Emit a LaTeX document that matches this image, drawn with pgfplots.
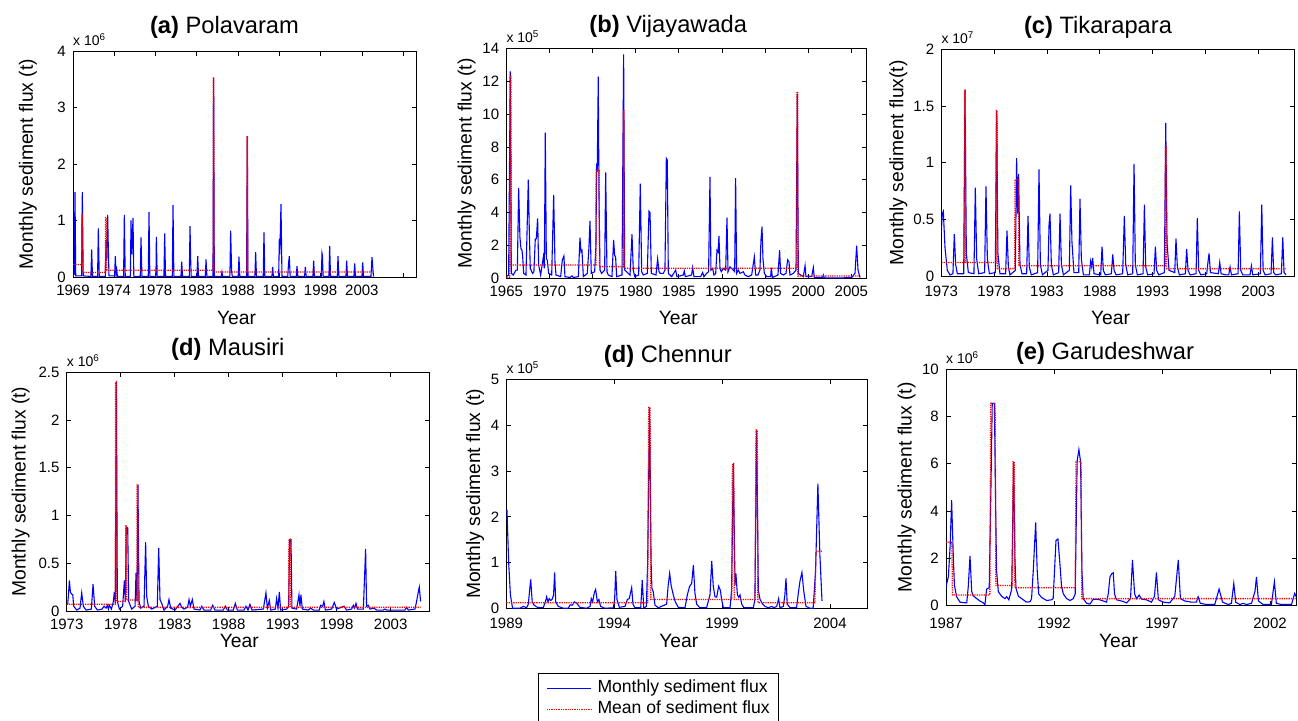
\documentclass[border=0pt]{standalone}
\usepackage{fontspec}
\setmainfont{Liberation Sans}
\usepackage{pgfplots}
\pgfplotsset{compat=1.18}

\newcommand\ftick{\fontsize{15}{18}\selectfont}
\newcommand\flab{\fontsize{19.3}{23}\selectfont}
\newcommand\ftitle{\fontsize{23.7}{28}\selectfont}
\newcommand\fmult{\fontsize{14}{16}\selectfont}
\newcommand\flegend{\fontsize{17.6}{21}\selectfont}

\pgfplotsset{
  flux panel/.style={
    scale only axis, anchor=south west, ymin=0,
    clip mode=individual,
    axis line style={line width=0.9pt},
    tick align=inside, major tick length=4.5pt,
    tick style={black, line width=0.7pt},
    scaled ticks=false,
    /pgf/number format/assume math mode=true,
    /pgf/number format/1000 sep={},
    tick label style={font=\ftick, inner sep=1pt},
    yticklabel style={xshift=-6pt},
    every axis title/.style={font=\ftitle, anchor=base},
    label style={font=\flab},
    ylabel={Monthly sediment flux (t)},
    xlabel={Year},
  },
  ylab at/.style={ylabel style={at={([xshift=-#1]rel axis cs:0,0.5)}, anchor=base}},
  xlab at/.style 2 args={xlabel style={at={([xshift=#1,yshift=-#2]rel axis cs:0.5,0)}, anchor=base}},
  title at/.style 2 args={title style={at={([xshift=#1,yshift=#2]rel axis cs:0.5,1)}}},
  xtl shift/.style={xticklabel style={yshift=#1}},
  monthly/.style={color=blue, draw=blue, line width=1.1pt},
  meanflux/.style={color=red, draw=red, densely dotted, line width=1.3pt},
}
\newcommand\multiplier[1]{\node[anchor=base west, font=\fmult, inner sep=0pt] at ([yshift=5.5pt]rel axis cs:0,1) {x 10\textsuperscript{#1}};}

\begin{document}
\begin{tikzpicture}
\useasboundingbox (0pt,0pt) rectangle (1298pt,-720pt);

% ---------------- (a) Polavaram ----------------
\begin{axis}[flux panel, at={(73pt,-277pt)}, width=343pt, height=226pt,
  xmin=1969, xmax=2010.56, ymax=4, ytick={0,1,2,3,4},
  xtick={1969,1974,...,2009}, xticklabels={1969,1974,1978,1983,1988,1993,1998,2003,{}},
  title={\textbf{(a)} Polavaram}, title at={-20pt}{17.7pt},
  ylab at=40pt, xlab at={-8pt}{47pt}, xtl shift=-7.3pt]
\addplot[monthly] coordinates {
(1969.00,0.02)(1969.15,0.05)(1969.24,1.50)(1969.33,0.02)(1970.04,0.02)(1970.13,1.50)(1970.24,0.02)
(1971.17,0.01)(1971.26,0.49)(1971.36,0.01)(1971.98,0.01)(1972.07,0.86)(1972.18,0.01)
(1972.92,0.01)(1973.00,0.65)(1973.08,0.30)(1973.20,1.10)(1973.28,0.51)(1973.36,0.02)
(1974.04,0.02)(1974.13,0.37)(1974.22,0.05)(1974.30,0.12)(1974.38,0.01)
(1975.13,0.01)(1975.22,1.10)(1975.33,0.01)(1975.95,0.01)(1976.03,1.00)(1976.12,0.40)(1976.27,1.04)(1976.37,0.01)
(1977.15,0.01)(1977.24,0.70)(1977.35,0.01)(1978.12,0.01)(1978.21,1.15)(1978.31,0.01)
(1979.01,0.01)(1979.06,0.15)(1979.10,0.71)(1979.20,0.01)(1980.02,0.01)(1980.11,0.77)(1980.21,0.01)
(1981.03,0.01)(1981.12,1.27)(1981.22,0.01)(1982.08,0.01)(1982.17,0.27)(1982.27,0.01)
(1983.09,0.01)(1983.18,0.90)(1983.25,0.35)(1983.32,0.01)(1984.02,0.01)(1984.11,0.37)(1984.21,0.01)
(1985.03,0.01)(1985.12,0.31)(1985.22,0.01)(1985.96,0.01)(1986.04,3.53)(1986.12,0.01)
(1986.96,0.01)(1987.05,0.09)(1987.14,0.01)(1988.01,0.01)(1988.10,0.82)(1988.22,0.10)(1988.30,0.01)
(1989.02,0.01)(1989.11,0.36)(1989.21,0.01)(1990.03,0.01)(1990.12,2.48)(1990.20,0.01)
(1991.04,0.01)(1991.13,0.44)(1991.23,0.01)(1992.05,0.01)(1992.14,0.79)(1992.24,0.01)
(1993.10,0.01)(1993.19,0.18)(1993.28,0.01)(1993.92,0.01)(1994.00,0.68)(1994.06,0.40)(1994.20,1.29)(1994.32,0.01)
(1995.02,0.01)(1995.12,0.25)(1995.21,0.37)(1995.31,0.01)(1996.05,0.01)(1996.14,0.19)(1996.24,0.01)
(1997.06,0.01)(1997.15,0.18)(1997.25,0.01)(1998.07,0.01)(1998.16,0.29)(1998.26,0.01)
(1999.08,0.01)(1999.17,0.42)(1999.22,0.38)(1999.30,0.01)(2000.01,0.01)(2000.10,0.55)(2000.20,0.01)
(2001.02,0.01)(2001.11,0.37)(2001.21,0.01)(2002.07,0.01)(2002.16,0.29)(2002.26,0.01)
(2003.04,0.01)(2003.13,0.24)(2003.23,0.01)(2004.01,0.01)(2004.10,0.26)(2004.20,0.01)
(2005.10,0.01)(2005.23,0.35)(2005.40,0.02)(2005.47,0.01)};
\addplot[meanflux] coordinates {
(1969.00,0.22)(1970.05,0.22)(1970.08,1.10)(1970.12,1.10)(1970.15,0.08)(1972.92,0.08)(1972.95,1.05)
(1973.05,1.05)(1973.08,0.12)(1985.98,0.12)(1986.00,3.53)(1986.06,3.53)(1986.08,0.09)
(1990.08,0.09)(1990.10,2.48)(1990.14,2.48)(1990.16,0.09)(2005.47,0.09)};
\multiplier{6}
\end{axis}

% ---------------- (b) Vijayawada ----------------
\begin{axis}[flux panel, at={(506.3pt,-278.3pt)}, width=360pt, height=230pt,
  xmin=1965, xmax=2006.73, ymax=14, ytick={0,2,...,14},
  xtick={1965,1970,...,2005},
  title={\textbf{(b)} Vijayawada}, title at={-18pt}{16pt},
  ylab at=34.6pt, xlab at={-8pt}{45.7pt}, xtl shift=-6.7pt]
\addplot[monthly] coordinates {
(1965.00,0.10)(1965.27,0.20)(1965.46,12.60)(1965.58,0.30)(1965.81,0.20)(1966.12,0.50)(1966.28,0.50)
(1966.43,5.50)(1966.58,2.50)(1966.70,1.80)(1966.82,1.70)(1966.89,1.40)(1967.01,0.30)(1967.28,0.20)
(1967.55,6.00)(1967.67,2.80)(1967.78,0.60)(1968.05,0.30)(1968.20,0.40)(1968.36,2.40)(1968.48,2.40)
(1968.63,3.65)(1968.75,0.80)(1968.98,0.20)(1969.29,1.30)(1969.41,0.60)(1969.52,8.87)(1969.64,1.20)
(1969.75,1.10)(1969.91,0.30)(1970.26,0.20)(1970.49,5.07)(1970.64,1.00)(1970.76,0.20)(1971.30,0.10)
(1971.49,1.10)(1971.68,1.36)(1971.80,0.10)(1972.38,0.05)(1972.61,0.15)(1972.77,0.05)(1973.35,0.10)
(1973.54,2.47)(1973.66,1.60)(1973.77,1.70)(1973.93,0.10)(1974.39,0.30)(1974.58,1.90)(1974.70,3.49)
(1974.85,0.30)(1975.24,0.40)(1975.39,2.00)(1975.47,7.00)(1975.54,6.50)(1975.66,12.27)(1975.74,5.20)
(1975.86,0.50)(1976.05,0.30)(1976.40,0.50)(1976.52,6.45)(1976.67,0.40)(1976.82,0.20)(1977.25,0.10)
(1977.44,2.33)(1977.56,1.40)(1977.67,1.30)(1977.79,0.10)(1978.41,0.20)(1978.60,13.63)(1978.72,0.50)
(1978.95,0.40)(1979.34,0.20)(1979.57,2.68)(1979.72,0.50)(1979.88,0.10)(1980.34,0.20)(1980.53,5.76)
(1980.69,0.40)(1980.88,0.20)(1981.34,0.30)(1981.54,4.08)(1981.66,4.00)(1981.81,0.30)(1982.35,0.20)
(1982.54,1.18)(1982.70,0.40)(1982.85,0.30)(1983.20,0.30)(1983.39,0.50)(1983.55,7.30)(1983.66,7.20)
(1983.78,0.30)(1984.17,0.10)(1984.63,0.50)(1984.78,0.10)(1985.52,0.20)(1985.63,0.45)(1985.75,0.10)
(1986.48,0.20)(1986.60,0.65)(1986.75,0.10)(1987.53,0.10)(1987.76,0.35)(1987.91,0.10)(1988.22,0.30)
(1988.45,0.40)(1988.61,6.17)(1988.72,0.50)(1988.92,0.60)(1989.07,0.20)(1989.27,0.30)(1989.42,1.70)
(1989.54,1.60)(1989.65,2.58)(1989.77,0.60)(1989.92,0.40)(1990.15,0.60)(1990.43,0.50)(1990.58,3.70)
(1990.70,0.40)(1990.93,0.70)(1991.12,0.60)(1991.32,0.50)(1991.47,0.40)(1991.58,6.09)(1991.70,0.30)
(1991.89,0.50)(1992.09,0.30)(1992.47,0.40)(1992.67,0.20)(1993.05,0.10)(1993.44,0.20)(1993.75,1.30)
(1993.90,0.20)(1994.17,0.20)(1994.40,0.50)(1994.52,2.33)(1994.64,3.14)(1994.75,1.20)(1994.91,0.30)
(1995.18,0.10)(1995.64,0.10)(1995.72,0.65)(1995.84,0.05)(1996.49,0.20)(1996.68,1.72)(1996.80,0.30)
(1997.11,0.20)(1997.42,0.30)(1997.61,1.12)(1997.77,1.00)(1997.88,0.20)(1998.27,0.30)(1998.58,0.50)
(1998.73,11.22)(1998.85,0.30)(1999.12,0.20)(1999.43,0.10)(1999.63,0.77)(1999.74,0.10)(2000.40,0.10)
(2000.59,0.65)(2000.70,0.05)(2001.67,0.05)(2001.75,0.20)(2001.86,0.03)(2003.68,0.02)(2005.03,0.05)
(2005.42,0.30)(2005.61,1.99)(2005.77,0.50)(2006.00,0.05)};
\addplot[meanflux] coordinates {
(1965.00,0.05)(1965.40,0.05)(1965.44,12.30)(1965.54,12.30)(1965.58,0.81)(1975.38,0.81)(1975.42,6.60)
(1975.76,6.60)(1975.80,0.71)(1978.55,0.71)(1978.57,10.20)(1978.63,10.20)(1978.66,0.61)
(1998.66,0.61)(1998.69,11.30)(1998.77,11.30)(1998.80,0.14)(2006.00,0.14)};
\multiplier{5}
\end{axis}

% ---------------- (c) Tikarapara ----------------
\begin{axis}[flux panel, at={(941.3pt,-276pt)}, width=353.4pt, height=226.7pt,
  xmin=1973, xmax=2006.46, ymax=2, ytick={0,0.5,1,1.5,2},
  xtick={1973,1978,...,2003},
  ylabel={Monthly sediment flux(t)},
  title={\textbf{(c)} Tikarapara}, title at={-20pt}{16pt},
  ylab at=38pt, xlab at={-7.5pt}{48pt}, xtl shift=-9pt]
\addplot[monthly] coordinates {
(1973.00,0.38)(1973.09,0.55)(1973.19,0.57)(1973.35,0.25)(1973.57,0.05)(1973.82,0.01)
(1974.10,0.02)(1974.23,0.37)(1974.36,0.10)(1974.52,0.02)(1975.12,0.02)(1975.24,1.64)(1975.37,0.20)(1975.56,0.03)
(1976.09,0.02)(1976.22,0.78)(1976.35,0.15)(1976.54,0.02)(1977.10,0.03)(1977.23,0.79)(1977.36,0.15)(1977.55,0.02)
(1978.11,0.03)(1978.24,1.46)(1978.36,0.20)(1978.55,0.02)(1979.09,0.02)(1979.22,0.40)(1979.35,0.08)(1979.50,0.01)
(1980.01,0.05)(1980.13,1.04)(1980.23,0.55)(1980.32,0.90)(1980.45,0.10)(1980.64,0.02)
(1981.08,0.02)(1981.21,0.53)(1981.33,0.08)(1981.52,0.01)(1982.12,0.03)(1982.25,0.94)(1982.38,0.10)(1982.57,0.01)
(1983.10,0.05)(1983.20,0.45)(1983.29,0.55)(1983.42,0.10)(1983.61,0.01)(1984.11,0.03)(1984.24,0.55)(1984.37,0.10)(1984.56,0.01)
(1985.12,0.05)(1985.25,0.80)(1985.37,0.30)(1985.56,0.03)(1986.01,0.03)(1986.13,0.68)(1986.26,0.15)(1986.45,0.01)
(1987.02,0.01)(1987.14,0.13)(1987.24,0.08)(1987.33,0.16)(1987.46,0.02)(1988.09,0.01)(1988.22,0.26)(1988.34,0.05)(1988.53,0.01)
(1989.10,0.02)(1989.23,0.19)(1989.36,0.05)(1989.55,0.01)(1990.17,0.02)(1990.33,0.53)(1990.46,0.10)(1990.65,0.01)
(1991.12,0.02)(1991.25,0.99)(1991.37,0.10)(1991.56,0.01)(1992.10,0.02)(1992.23,0.63)(1992.35,0.08)(1992.54,0.01)
(1993.14,0.02)(1993.27,0.26)(1993.39,0.05)(1993.58,0.01)(1994.12,0.03)(1994.25,1.35)(1994.37,0.30)(1994.56,0.05)
(1995.10,0.03)(1995.22,0.33)(1995.35,0.08)(1995.54,0.01)(1996.11,0.02)(1996.23,0.24)(1996.36,0.05)(1996.55,0.01)
(1997.12,0.02)(1997.24,0.51)(1997.37,0.05)(1997.56,0.01)(1998.13,0.02)(1998.22,0.10)(1998.35,0.20)(1998.48,0.03)
(1999.23,0.02)(1999.36,0.12)(1999.49,0.02)(1999.96,0.01)(2000.21,0.01)(2000.34,0.08)(2000.47,0.01)
(2001.10,0.02)(2001.22,0.57)(2001.35,0.05)(2001.54,0.01)(2002.23,0.01)(2002.36,0.09)(2002.49,0.01)
(2003.21,0.02)(2003.34,0.63)(2003.47,0.05)(2003.66,0.01)(2004.22,0.02)(2004.35,0.34)(2004.47,0.03)(2004.66,0.01)
(2005.20,0.02)(2005.33,0.34)(2005.45,0.03)(2005.64,0.01)};
\addplot[meanflux] coordinates {
(1973.00,0.12)(1975.18,0.12)(1975.20,1.64)(1975.27,1.64)(1975.30,0.12)(1978.17,0.12)(1978.20,1.46)
(1978.28,1.46)(1978.31,0.065)(1979.95,0.065)(1979.98,0.85)(1980.30,0.85)(1980.33,0.09)(1994.20,0.09)
(1994.22,1.15)(1994.30,1.15)(1994.33,0.065)(2005.64,0.065)};
\multiplier{7}
\end{axis}

% ---------------- (d) Mausiri ----------------
\begin{axis}[flux panel, at={(66.7pt,-611pt)}, width=362.3pt, height=238.7pt,
  xmin=1973, xmax=2006.55, ymax=2.5, ytick={0,0.5,1,1.5,2,2.5},
  xtick={1973,1978,...,2003},
  title={\textbf{(d)} Mausiri}, title at={-20pt}{16.7pt},
  ylab at=41pt, xlab at={-8.5pt}{36.3pt}, xtl shift=-6.5pt]
\addplot[monthly] coordinates {
(1973.09,0.07)(1973.15,0.15)(1973.25,0.32)(1973.34,0.20)(1973.43,0.18)(1973.56,0.17)(1973.65,0.05)(1973.93,0.01)
(1974.23,0.03)(1974.39,0.19)(1974.54,0.05)(1974.79,0.01)(1975.28,0.02)(1975.44,0.28)(1975.59,0.05)(1975.84,0.01)
(1976.27,0.02)(1976.46,0.05)(1976.64,0.03)(1976.77,0.06)(1976.86,0.02)(1976.95,0.06)(1977.14,0.02)
(1977.32,0.10)(1977.41,0.20)(1977.51,0.08)(1977.60,2.40)(1977.69,0.10)(1977.88,0.02)
(1978.18,0.05)(1978.34,0.32)(1978.43,0.10)(1978.52,0.88)(1978.65,0.87)(1978.74,0.10)(1979.02,0.02)
(1979.33,0.05)(1979.42,0.40)(1979.51,0.10)(1979.60,1.32)(1979.70,0.10)(1979.85,0.03)
(1980.16,0.05)(1980.31,0.72)(1980.41,0.15)(1980.56,0.05)(1980.87,0.02)
(1981.39,0.05)(1981.52,0.66)(1981.64,0.12)(1981.80,0.08)(1982.01,0.01)(1982.35,0.05)(1982.47,0.12)(1982.63,0.03)
(1983.03,0.01)(1983.49,0.08)(1983.65,0.04)(1983.86,0.02)(1984.20,0.04)(1984.33,0.12)(1984.45,0.05)(1984.63,0.12)(1984.79,0.02)
(1985.34,0.01)(1985.50,0.05)(1985.71,0.01)(1986.33,0.01)(1986.52,0.06)(1986.73,0.01)
(1987.50,0.01)(1987.69,0.05)(1987.87,0.01)(1988.43,0.01)(1988.62,0.08)(1988.80,0.01)
(1989.42,0.01)(1989.60,0.05)(1989.79,0.01)(1989.97,0.07)(1990.16,0.01)
(1991.21,0.02)(1991.45,0.19)(1991.58,0.03)(1991.76,0.11)(1991.89,0.01)
(1992.32,0.02)(1992.44,0.13)(1992.57,0.03)(1992.69,0.20)(1992.81,0.01)
(1993.37,0.02)(1993.55,0.05)(1993.65,0.75)(1993.77,0.75)(1993.86,0.03)
(1994.29,0.02)(1994.51,0.17)(1994.60,0.05)(1994.69,0.17)(1994.82,0.02)(1995.37,0.01)(1995.59,0.03)(1995.84,0.01)
(1996.39,0.01)(1996.52,0.06)(1996.70,0.05)(1996.82,0.10)(1996.95,0.01)(1997.53,0.02)(1997.78,0.09)(1997.99,0.02)
(1998.46,0.04)(1998.68,0.05)(1998.92,0.01)(1999.39,0.02)(1999.54,0.06)(1999.66,0.03)(1999.79,0.08)(1999.94,0.02)
(2000.47,0.02)(2000.68,0.65)(2000.77,0.05)(2000.93,0.06)(2001.08,0.02)(2001.45,0.03)(2001.70,0.01)
(2002.32,0.01)(2002.47,0.02)(2002.63,0.01)(2004.32,0.01)(2004.48,0.04)(2004.63,0.01)
(2005.25,0.02)(2005.40,0.10)(2005.56,0.20)(2005.65,0.25)(2005.77,0.10)};
\addplot[meanflux] coordinates {
(1973.00,0.07)(1977.50,0.07)(1977.53,2.40)(1977.60,2.40)(1977.63,0.10)(1978.45,0.10)(1978.48,0.89)
(1978.53,0.89)(1978.56,0.115)(1979.50,0.115)(1979.52,1.32)(1979.58,1.32)(1979.62,0.038)
(1993.55,0.038)(1993.58,0.75)(1993.70,0.75)(1993.73,0.038)(2005.77,0.038)};
\multiplier{6}
\end{axis}

% ---------------- (d) Chennur ----------------
\begin{axis}[flux panel, at={(506.3pt,-608.7pt)}, width=361pt, height=229.7pt,
  xmin=1989, xmax=2005.73, ymax=5, ytick={0,1,...,5},
  xtick={1989,1994,1999,2004},
  title={\textbf{(d)} Chennur}, title at={-19pt}{16.7pt},
  ylab at=26.3pt, xlab at={-8pt}{38.6pt}, xtl shift=-8.3pt,
  legend style={at={(rel axis cs:0.0878,-0.2786)}, anchor=north west,
    draw=black, font=\flegend, inner xsep=8pt, inner ysep=6pt,
    row sep=2pt, column sep=5pt, cells={anchor=west},
    nodes={inner sep=1pt, text height=13pt, text depth=4pt}},
  legend image code/.code={\draw[#1] (0pt,0pt) -- (44pt,0pt);}]
\addplot[monthly] coordinates {
(1989.03,2.15)(1989.11,1.00)(1989.19,0.30)(1989.29,0.01)(1989.63,0.01)(1989.79,0.05)(1989.94,0.02)
(1990.02,0.10)(1990.13,0.64)(1990.20,0.15)(1990.28,0.08)(1990.44,0.03)(1990.71,0.02)(1990.81,0.15)
(1990.87,0.26)(1990.93,0.15)(1990.99,0.22)(1991.05,0.18)(1991.12,0.20)(1991.19,0.30)(1991.24,0.79)
(1991.29,0.15)(1991.41,0.05)(1991.64,0.01)(1991.87,0.01)(1991.95,0.08)(1992.07,0.08)(1992.15,0.15)
(1992.26,0.12)(1992.41,0.03)(1992.72,0.01)(1992.88,0.05)(1992.94,0.22)(1993.00,0.15)(1993.08,0.35)
(1993.14,0.42)(1993.22,0.15)(1993.29,0.20)(1993.37,0.05)(1993.57,0.01)(1993.96,0.02)(1994.02,0.20)
(1994.07,0.82)(1994.13,0.20)(1994.24,0.03)(1994.50,0.05)(1994.61,0.20)(1994.70,0.22)(1994.81,0.46)
(1994.87,0.10)(1994.96,0.02)(1995.23,0.02)(1995.30,0.62)(1995.37,0.01)(1995.49,0.05)(1995.55,1.00)
(1995.64,4.38)(1995.71,1.00)(1995.75,0.44)(1995.81,0.37)(1995.89,0.08)(1996.04,0.02)(1996.43,0.10)
(1996.50,0.50)(1996.57,0.77)(1996.64,0.50)(1996.74,0.30)(1996.83,0.15)(1996.97,0.03)(1997.28,0.02)
(1997.39,0.30)(1997.49,0.48)(1997.59,0.55)(1997.67,0.95)(1997.74,0.35)(1997.82,0.10)(1997.97,0.02)
(1998.28,0.02)(1998.44,0.30)(1998.52,1.04)(1998.59,0.50)(1998.67,0.26)(1998.75,0.25)(1998.84,0.49)
(1998.92,0.40)(1998.98,0.20)(1999.06,0.02)(1999.37,0.02)(1999.44,0.40)(1999.52,3.16)(1999.60,0.52)
(1999.64,0.77)(1999.71,0.30)(1999.77,0.25)(1999.83,0.30)(1999.91,0.10)(2000.01,0.02)(2000.45,0.02)
(2000.52,0.20)(2000.60,3.89)(2000.68,0.40)(2000.76,0.20)(2000.88,0.10)(2000.99,0.05)(2001.14,0.02)
(2001.30,0.05)(2001.40,0.02)(2001.53,0.05)(2001.62,0.22)(2001.68,0.02)(2001.84,0.05)(2001.91,0.30)
(2001.96,0.66)(2002.02,0.10)(2002.15,0.02)(2002.45,0.02)(2002.55,0.40)(2002.61,0.60)(2002.70,0.79)
(2002.78,0.40)(2002.89,0.05)(2003.07,0.01)(2003.22,0.01)(2003.33,0.80)(2003.44,2.72)(2003.53,1.20)
(2003.63,0.17)};
\addplot[meanflux] coordinates {
(1989.00,0.13)(1995.55,0.13)(1995.60,4.38)(1995.66,4.38)(1995.70,0.20)(1999.45,0.20)(1999.48,3.16)
(1999.54,3.16)(1999.57,0.20)(2000.53,0.20)(2000.57,3.89)(2000.63,3.89)(2000.66,0.13)(2003.30,0.13)
(2003.35,1.25)(2003.63,1.25)};
\multiplier{5}
\legend{Monthly sediment flux, Mean of sediment flux}
\end{axis}

% ---------------- (e) Garudeshwar ----------------
\begin{axis}[flux panel, at={(946pt,-605.7pt)}, width=350pt, height=236.7pt,
  xmin=1987, xmax=2003.2, ymax=10, ytick={0,2,...,10},
  xtick={1987,1992,1997,2002},
  title={\textbf{(e)} Garudeshwar}, title at={-16pt}{10pt},
  ylab at=34.3pt, xlab at={-2.5pt}{41.6pt}, xtl shift=-10.9pt]
\addplot[monthly] coordinates {
(1987.00,0.80)(1987.11,1.22)(1987.19,2.50)(1987.26,4.46)(1987.34,2.00)(1987.39,0.87)(1987.49,0.38)
(1987.65,0.15)(1987.80,0.13)(1987.96,0.12)(1988.03,0.80)(1988.11,2.10)(1988.19,0.60)(1988.26,0.42)
(1988.42,0.30)(1988.57,0.20)(1988.73,0.12)(1988.80,0.03)(1988.88,0.70)(1989.00,0.76)(1989.08,5.00)
(1989.14,8.55)(1989.24,8.55)(1989.30,4.00)(1989.34,1.50)(1989.42,0.60)(1989.57,0.40)(1989.73,0.30)
(1989.81,0.38)(1989.91,0.25)(1990.04,0.70)(1990.13,6.08)(1990.19,2.00)(1990.24,0.73)(1990.35,0.40)
(1990.50,0.30)(1990.73,0.15)(1990.89,0.17)(1990.96,0.30)(1991.04,1.50)(1991.15,3.52)(1991.22,1.50)
(1991.29,0.50)(1991.42,0.35)(1991.66,0.22)(1991.89,0.25)(1991.96,0.30)(1992.09,2.75)(1992.18,2.82)
(1992.27,1.80)(1992.35,0.80)(1992.43,0.50)(1992.58,0.30)(1992.74,0.22)(1992.89,0.30)(1992.98,0.50)
(1993.07,6.11)(1993.15,6.60)(1993.23,6.08)(1993.29,1.50)(1993.35,0.30)(1993.51,0.10)(1993.66,0.07)
(1993.81,0.27)(1993.97,0.27)(1994.12,0.25)(1994.28,0.20)(1994.43,0.15)(1994.51,0.50)(1994.59,1.22)
(1994.67,1.35)(1994.74,1.39)(1994.80,0.50)(1994.89,0.25)(1995.20,0.18)(1995.36,0.12)(1995.54,0.30)
(1995.63,1.93)(1995.73,0.50)(1995.82,0.30)(1995.94,0.45)(1996.05,0.28)(1996.28,0.25)(1996.51,0.15)
(1996.65,0.40)(1996.74,1.41)(1996.83,0.25)(1997.05,0.15)(1997.36,0.12)(1997.59,0.40)(1997.75,1.93)
(1997.85,0.30)(1998.05,0.20)(1998.36,0.15)(1998.59,0.15)(1998.67,0.38)(1998.77,0.10)(1999.06,0.05)
(1999.44,0.05)(1999.64,0.70)(1999.80,0.15)(2000.06,0.05)(2000.21,0.10)(2000.32,0.94)(2000.41,0.15)
(2000.60,0.05)(2000.75,0.10)(2000.91,0.05)(2001.14,0.10)(2001.30,0.60)(2001.37,1.22)(2001.46,0.20)
(2001.68,0.05)(2002.06,0.05)(2002.20,1.01)(2002.29,0.10)(2002.53,0.05)(2002.99,0.05)(2003.14,0.52)
(2003.25,0.30)};
\addplot[meanflux] coordinates {
(1987.00,2.68)(1987.27,2.68)(1987.30,0.45)(1989.03,0.45)(1989.07,8.55)(1989.27,8.55)(1989.31,0.85)
(1990.08,0.85)(1990.10,6.08)(1990.16,6.08)(1990.19,0.76)(1992.98,0.76)(1993.02,6.08)(1993.25,6.08)
(1993.29,0.30)(2003.25,0.30)};
\multiplier{6}
\end{axis}
\end{tikzpicture}
\end{document}
